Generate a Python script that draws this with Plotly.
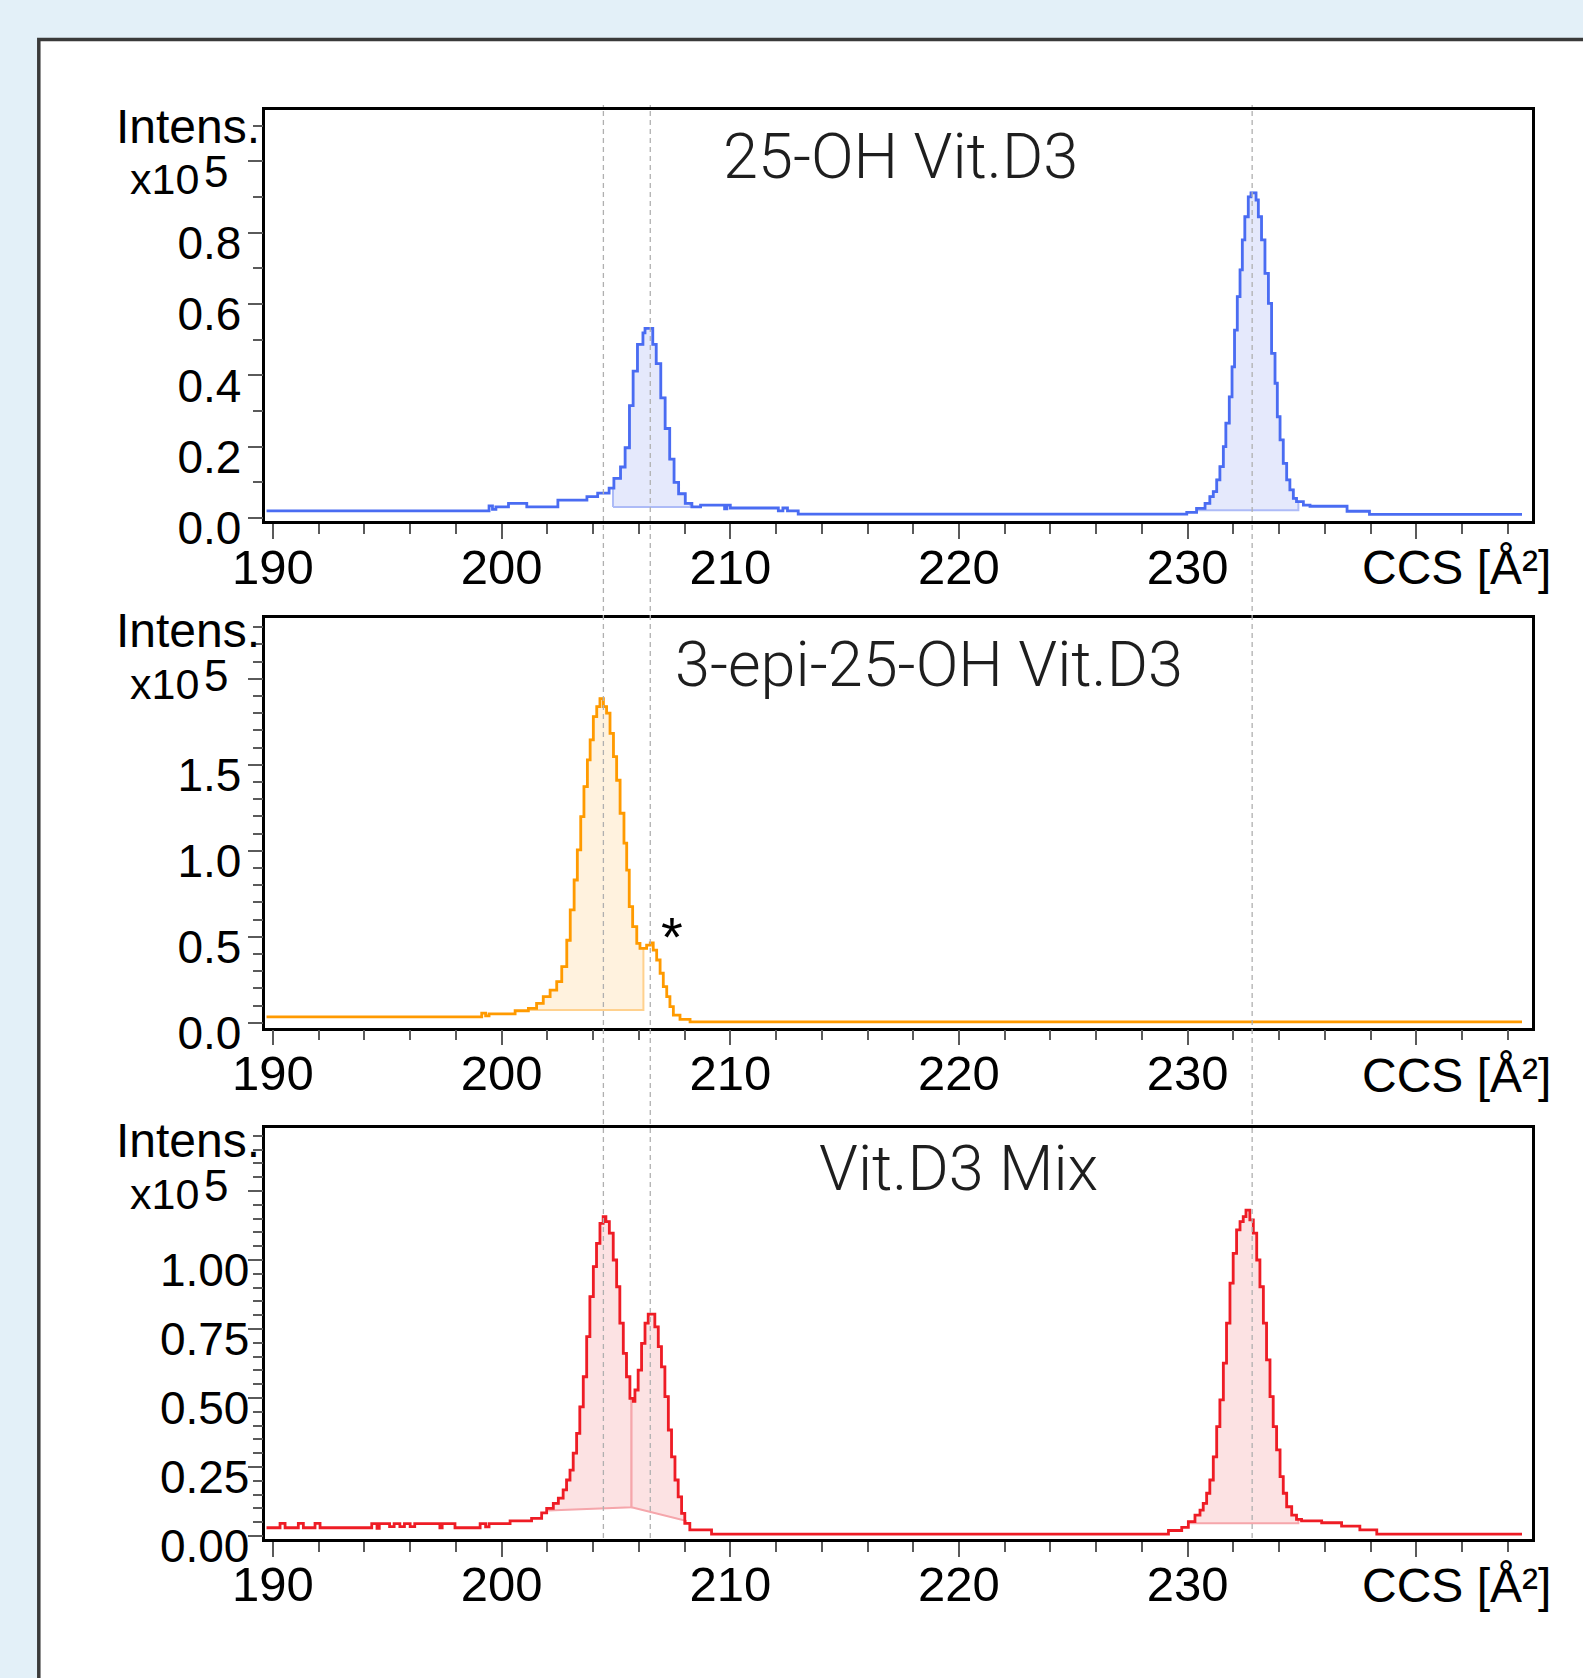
import plotly.graph_objects as go

W, H = 1583, 1678

# ---------------- data ----------------
ccs_range = [189.67, 245.04]
x_major = [190, 200, 210, 220, 230, 240]
x_major_text = ["190", "200", "210", "220", "230", ""]
x_unit_label = "CCS [Å²]"

titles = ["25-OH Vit.D3", "3-epi-25-OH Vit.D3", "Vit.D3 Mix"]
y_label = "Intens."
y_scale_base = "x10"
y_scale_exp = "5"
star_label = "*"
star_pos = [207.45, 0.50]

# 25-OH Vit.D3 (intensity x1e5), step data
top_ccs = [189.72, 199.45, 199.6, 199.75, 200.3, 201.1, 202.46, 203.73, 204.2, 204.7,
           204.91, 205.2, 205.4, 205.59, 205.75, 205.94, 206.18, 206.27, 206.61, 206.76,
           206.96, 207.15, 207.35, 207.54, 207.74, 208.03, 208.32, 208.7, 209.75, 209.85,
           210.0, 212.1, 212.3, 212.5, 212.97, 229.96, 230.39, 230.76, 230.97, 231.12,
           231.27, 231.41, 231.56, 231.67, 231.82, 231.94, 232.05, 232.17, 232.29, 232.39,
           232.5, 232.65, 232.77, 232.99, 233.09, 233.23, 233.38, 233.53, 233.67, 233.82,
           233.92, 234.04, 234.18, 234.33, 234.47, 234.62, 234.76, 235.06, 235.35, 236.97,
           237.95, 244.62]
top_int = [0.020, 0.034, 0.024, 0.031, 0.041, 0.031, 0.050, 0.060, 0.070, 0.084,
           0.111, 0.143, 0.197, 0.315, 0.412, 0.487, 0.519, 0.532, 0.487, 0.433,
           0.337, 0.251, 0.165, 0.100, 0.068, 0.041, 0.031, 0.036, 0.026, 0.036,
           0.028, 0.020, 0.028, 0.020, 0.011, 0.016, 0.027, 0.041, 0.060, 0.074,
           0.107, 0.144, 0.200, 0.266, 0.340, 0.424, 0.527, 0.621, 0.696, 0.780,
           0.845, 0.901, 0.912, 0.892, 0.845, 0.780, 0.686, 0.602, 0.462, 0.378,
           0.284, 0.219, 0.153, 0.107, 0.079, 0.055, 0.046, 0.036, 0.033, 0.019,
           0.010, 0.010]

# 3-epi-25-OH Vit.D3
mid_ccs = [189.72, 199.13, 199.3, 199.45, 200.59, 201.17, 201.53, 201.82, 202.12, 202.41,
           202.63, 202.85, 203.0, 203.17, 203.31, 203.46, 203.6, 203.75, 203.87, 204.01,
           204.16, 204.3, 204.45, 204.59, 204.74, 204.89, 205.03, 205.18, 205.35, 205.47,
           205.58, 205.73, 205.91, 206.05, 206.34, 206.5, 206.63, 206.78, 206.93, 207.07,
           207.22, 207.36, 207.51, 207.8, 208.24, 244.62]
mid_int = [0.035, 0.056, 0.040, 0.052, 0.070, 0.084, 0.113, 0.152, 0.190, 0.239,
           0.326, 0.480, 0.656, 0.830, 1.005, 1.198, 1.373, 1.528, 1.645, 1.780,
           1.838, 1.885, 1.838, 1.800, 1.683, 1.547, 1.410, 1.218, 1.044, 0.888,
           0.675, 0.559, 0.462, 0.433, 0.452, 0.465, 0.423, 0.365, 0.288, 0.210,
           0.152, 0.094, 0.045, 0.020, 0.005, 0.005]

# Vit.D3 Mix
bot_ccs = [189.72, 190.31, 190.53, 191.11, 191.33, 191.84, 192.06, 194.32, 194.55, 194.65,
           195.1, 195.3, 195.55, 195.75, 196.0, 196.2, 197.3, 197.4, 197.96, 199.06,
           199.3, 199.45, 200.37, 201.31, 201.75, 201.97, 202.26, 202.48, 202.69, 202.84,
           202.99, 203.13, 203.28, 203.42, 203.57, 203.72, 203.86, 204.01, 204.15, 204.3,
           204.44, 204.56, 204.71, 204.88, 205.03, 205.17, 205.32, 205.46, 205.61, 205.76,
           205.83, 205.97, 206.12, 206.27, 206.41, 206.7, 206.85, 206.99, 207.14, 207.29,
           207.43, 207.58, 207.72, 207.87, 208.01, 208.23, 209.18, 229.16, 229.74, 230.03,
           230.32, 230.54, 230.68, 230.83, 230.97, 231.12, 231.27, 231.41, 231.56, 231.70,
           231.85, 231.99, 232.14, 232.29, 232.43, 232.55, 232.72, 232.87, 233.02, 233.16,
           233.31, 233.45, 233.6, 233.74, 233.89, 234.04, 234.18, 234.33, 234.55, 234.76,
           234.98, 235.86, 236.73, 237.53, 238.27, 244.62]
bot_int = [0.030, 0.046, 0.030, 0.046, 0.030, 0.046, 0.030, 0.045, 0.028, 0.045,
           0.034, 0.045, 0.034, 0.045, 0.034, 0.045, 0.030, 0.045, 0.030, 0.045,
           0.033, 0.045, 0.055, 0.064, 0.084, 0.100, 0.118, 0.137, 0.167, 0.203,
           0.239, 0.300, 0.372, 0.468, 0.577, 0.722, 0.867, 0.976, 1.060, 1.133,
           1.157, 1.139, 1.097, 1.000, 0.903, 0.771, 0.662, 0.577, 0.499, 0.488,
           0.529, 0.601, 0.698, 0.771, 0.804, 0.758, 0.686, 0.613, 0.505, 0.384,
           0.287, 0.203, 0.142, 0.082, 0.046, 0.022, 0.007, 0.020, 0.031, 0.052,
           0.076, 0.094, 0.118, 0.155, 0.203, 0.287, 0.396, 0.493, 0.626, 0.771,
           0.916, 1.024, 1.109, 1.139, 1.157, 1.181, 1.145, 1.097, 1.000, 0.903,
           0.771, 0.638, 0.505, 0.396, 0.312, 0.215, 0.155, 0.106, 0.076, 0.060,
           0.055, 0.048, 0.036, 0.022, 0.007, 0.007]

# integrated peak regions: (start, end, baseline at start, baseline at end)
top_regions = [(204.87, 208.25, 0.031, 0.031), (230.39, 234.84, 0.022, 0.022)]
mid_regions = [(201.17, 206.2, 0.075, 0.075)]
bot_regions = [(202.04, 205.68, 0.092, 0.104), (205.68, 208.06, 0.104, 0.055),
               (230.03, 234.84, 0.046, 0.046)]

marker_ccs = [204.45, 206.5, 232.82]

y_ranges = [[-0.0084, 1.1444], [-0.0273, 2.356], [-0.0101, 1.480]]
y_ticks = [[0, 0.2, 0.4, 0.6, 0.8, 1.0], [0, 0.5, 1.0, 1.5, 2.0], [0, 0.25, 0.5, 0.75, 1.0, 1.25]]
y_ticktext = [["0.0", "0.2", "0.4", "0.6", "0.8", " "], ["0.0", "0.5", "1.0", "1.5", " "],
              ["0.00", "0.25", "0.50", "0.75", "1.00", " "]]
y_minor = [0.1, 0.1, 0.05]

# ---------------- styles ----------------
line_colors = ["#4a6cf2", "#ff9a00", "#ee1c25"]
fill_colors = ["rgba(226,231,252,0.9)", "rgba(255,241,220,0.95)", "rgba(252,224,226,0.95)"]
edge_colors = ["#adbbf7", "#ffd18e", "#f5a6ab"]

TICK_FONT = "Liberation Sans, Arial, sans-serif"
TITLE_FONT = "Roboto, Open Sans, sans-serif"

plot_top_px = [110, 617.5, 1127.5]
plot_bot_px = [521, 1027.5, 1538.8]
plot_left_px, plot_right_px = 265.4, 1531.6


def fx(p):
    return p / W


def fy(p):
    return 1 - p / H


def region_polygon(xs, ys, x0, x1, b0, b1):
    def val_at(x):
        v = ys[0]
        for xi, yi in zip(xs, ys):
            if xi <= x:
                v = yi
            else:
                break
        return v
    px = [x0, x0]
    py = [b0, val_at(x0)]
    for xi, yi in zip(xs, ys):
        if x0 < xi < x1:
            px += [xi, xi]
            py += [py[-1], yi]
    px += [x1, x1, x0]
    py += [py[-1], b1, b0]
    return px, py


fig = go.Figure()

series = [(top_ccs, top_int, top_regions), (mid_ccs, mid_int, mid_regions),
          (bot_ccs, bot_int, bot_regions)]

for i, (xs, ys, regs) in enumerate(series):
    xa = "x" if i == 0 else f"x{i+1}"
    ya = "y" if i == 0 else f"y{i+1}"
    for (a, b, b0, b1) in regs:
        px, py = region_polygon(xs, ys, a, b, b0, b1)
        fig.add_trace(go.Scatter(x=px, y=py, mode="lines", fill="toself",
                                 fillcolor=fill_colors[i],
                                 line=dict(color=edge_colors[i], width=2),
                                 xaxis=xa, yaxis=ya, hoverinfo="skip"))
    fig.add_trace(go.Scatter(x=xs, y=ys, mode="lines",
                             line=dict(color=line_colors[i], width=2.8, shape="hv"),
                             xaxis=xa, yaxis=ya))

layout = dict(
    template="none",
    width=W, height=H, autosize=False,
    margin=dict(l=0, r=0, t=0, b=0, pad=0, autoexpand=False),
    paper_bgcolor="#e3f0f8", plot_bgcolor="white",
    showlegend=False,
)

for i in range(3):
    xkey = "xaxis" if i == 0 else f"xaxis{i+1}"
    ykey = "yaxis" if i == 0 else f"yaxis{i+1}"
    xa = "x" if i == 0 else f"x{i+1}"
    ya = "y" if i == 0 else f"y{i+1}"
    layout[xkey] = dict(
        domain=[fx(plot_left_px), fx(plot_right_px)], anchor=ya, automargin=False,
        range=ccs_range, showgrid=False, zeroline=False,
        showline=True, mirror=True, linecolor="black", linewidth=2.5,
        tickmode="array", tickvals=x_major, ticktext=x_major_text,
        ticks="outside", ticklen=15, tickwidth=2, tickcolor="#5a5a5a",
        ticklabelstandoff=-14,
        tickfont=dict(family=TICK_FONT, size=49, color="black"),
        minor=dict(tickmode="linear", tick0=190, dtick=2, ticks="outside",
                   ticklen=10, tickwidth=2, tickcolor="#5a5a5a", showgrid=False),
    )
    layout[ykey] = dict(
        domain=[fy(plot_bot_px[i]), fy(plot_top_px[i])], anchor=xa, automargin=False,
        range=y_ranges[i], showgrid=False, zeroline=False,
        showline=True, mirror=True, linecolor="black", linewidth=2.5,
        tickmode="array", tickvals=y_ticks[i], ticktext=y_ticktext[i],
        ticks="outside", ticklen=15, tickwidth=2, tickcolor="#5a5a5a",
        ticklabelshift=10, ticklabelstandoff=(-3 if i < 2 else -11),
        tickfont=dict(family=TICK_FONT, size=46, color="black"),
        minor=dict(tickmode="linear", tick0=0, dtick=y_minor[i], ticks="outside",
                   ticklen=10, tickwidth=2, tickcolor="#5a5a5a", showgrid=False),
    )

fig.update_layout(**layout)

shapes = [dict(type="rect", xref="paper", yref="paper",
               x0=fx(38.8), x1=fx(1620), y0=fy(1720), y1=fy(39.4),
               line=dict(color="#3a3a3a", width=3.5), fillcolor="white", layer="below")]
for m in marker_ccs:
    shapes.append(dict(type="line", xref="x", yref="paper", x0=m, x1=m,
                       y0=fy(1538), y1=fy(105),
                       line=dict(color="#b0b0b0", width=1.3, dash="5px,4px"),
                       layer="above"))
fig.update_layout(shapes=shapes)

title_pos = [(900, 156), (929, 664), (959, 1168)]
intens_y = [126.3, 630.5, 1140.6]
unit_y = [567, 1075.6, 1585]

ann = []
for i in range(3):
    ann.append(dict(text=titles[i], xref="paper", yref="paper",
                    x=fx(title_pos[i][0]), y=fy(title_pos[i][1]),
                    xanchor="center", yanchor="middle", showarrow=False,
                    font=dict(family=TITLE_FONT, size=63, color="#1e1e1e", weight=300)))
    ann.append(dict(text=y_label, xref="paper", yref="paper",
                    x=fx(262), y=fy(intens_y[i]), xanchor="right", yanchor="middle",
                    showarrow=False, font=dict(family=TICK_FONT, size=48, color="black")))
    ann.append(dict(text=y_scale_base, xref="paper", yref="paper",
                    x=fx(201), y=fy(intens_y[i] + 53), xanchor="right", yanchor="middle",
                    showarrow=False, font=dict(family=TICK_FONT, size=43, color="black")))
    ann.append(dict(text=y_scale_exp, xref="paper", yref="paper",
                    x=fx(202), y=fy(intens_y[i] + 45), xanchor="left", yanchor="middle",
                    showarrow=False, font=dict(family=TICK_FONT, size=44, color="black")))
    ann.append(dict(text=x_unit_label, xref="paper", yref="paper",
                    x=fx(1553), y=fy(unit_y[i]), xanchor="right", yanchor="middle",
                    showarrow=False, font=dict(family=TICK_FONT, size=48, color="black")))
ann.append(dict(text=star_label, xref="x2", yref="y2", x=star_pos[0], y=star_pos[1],
                xanchor="center", yanchor="middle", showarrow=False,
                font=dict(family=TICK_FONT, size=56, color="black")))
fig.update_layout(annotations=ann)

fig.write_html("out.html", config={"displayModeBar": False},
               post_script="document.body.style.margin='0px';")
